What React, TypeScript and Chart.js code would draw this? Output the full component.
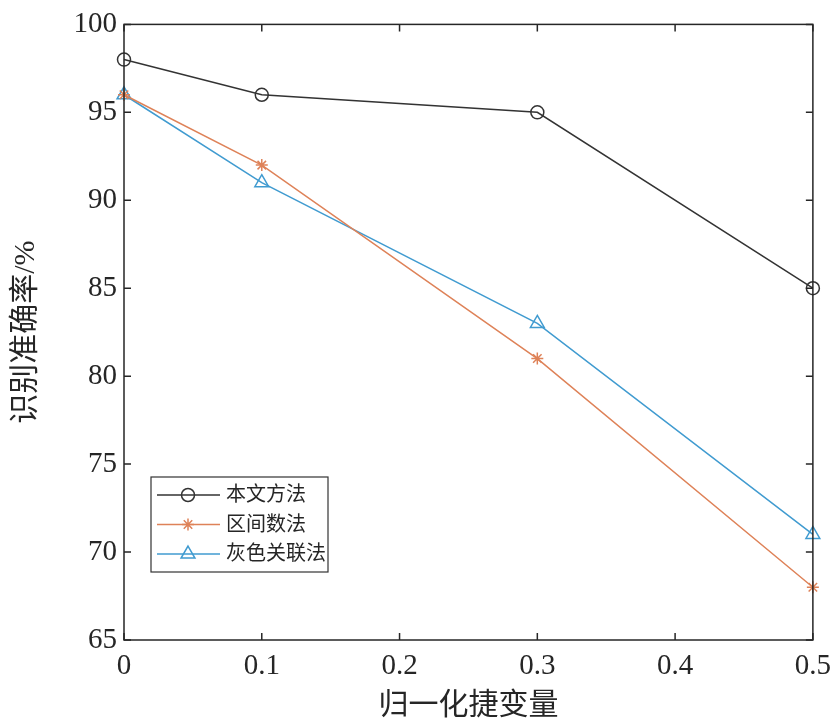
import React, { useEffect, useRef } from 'react';
import { Chart, registerables } from 'chart.js';
import { drawPoint } from 'chart.js/helpers';
Chart.register(...registerables);

// data
const xValues = [0, 0.1, 0.3, 0.5];
const seriesNames = ['本文方法', '区间数法', '灰色关联法'];
const oursAcc = [98, 96, 95, 85];
const intervalAcc = [96, 92, 81, 68];
const greyAcc = [96, 91, 83, 71];
const seriesValues = [oursAcc, intervalAcc, greyAcc];
const seriesColors = ['#333333', '#de8258', '#409bd0'];
const seriesMarkers = ['circle', 'star', 'triangle'];
const markerSizes = [6.5, 6, 8];

const xRange = { min: 0, max: 0.5, step: 0.1 };
const yRange = { min: 65, max: 100, step: 5 };
const xTitle = '归一化捷变量';
const yTitle = '识别准确率/%';

const FONT = "'Liberation Serif', 'Noto Sans CJK SC', serif";
const INK = '#262626';

const framePlugin = {
	id: 'frame',
	afterDatasetsDraw(chart: any) {
		const { ctx, chartArea, scales } = chart;
		const { left, right, top, bottom } = chartArea;
		const tl = 7;
		ctx.save();
		ctx.strokeStyle = INK;
		ctx.lineWidth = 1.5;
		ctx.strokeRect(left, top, right - left, bottom - top);
		ctx.beginPath();
		scales.x.ticks.forEach((t: any) => {
			const px = scales.x.getPixelForValue(t.value);
			ctx.moveTo(px, bottom);
			ctx.lineTo(px, bottom - tl);
			ctx.moveTo(px, top);
			ctx.lineTo(px, top + tl);
		});
		scales.y.ticks.forEach((t: any) => {
			const py = scales.y.getPixelForValue(t.value);
			ctx.moveTo(left, py);
			ctx.lineTo(left + tl, py);
			ctx.moveTo(right, py);
			ctx.lineTo(right - tl, py);
		});
		ctx.stroke();
		ctx.restore();
	},
};

const boxLegendPlugin = {
	id: 'boxLegend',
	afterDraw(chart: any) {
		const { ctx, chartArea } = chart;
		const bx = chartArea.left + 27;
		const by = chartArea.bottom - 163;
		const bw = 177;
		const bh = 95;
		const rowH = 29.5;
		ctx.save();
		ctx.fillStyle = '#ffffff';
		ctx.fillRect(bx, by, bw, bh);
		ctx.strokeStyle = '#333333';
		ctx.lineWidth = 1.2;
		ctx.strokeRect(bx, by, bw, bh);
		chart.data.datasets.forEach((ds: any, i: number) => {
			const cy = by + 18 + i * rowH;
			ctx.strokeStyle = ds.borderColor;
			ctx.lineWidth = 1.5;
			ctx.beginPath();
			ctx.moveTo(bx + 6, cy);
			ctx.lineTo(bx + 69, cy);
			ctx.stroke();
			ctx.fillStyle = 'rgba(0,0,0,0)';
			drawPoint(
				ctx,
				{ pointStyle: ds.pointStyle, rotation: 0, radius: ds.pointRadius, borderWidth: 1.5 },
				bx + 37,
				cy
			);
			ctx.fillStyle = INK;
			ctx.font = `20px ${FONT}`;
			ctx.textBaseline = 'middle';
			ctx.textAlign = 'left';
			ctx.fillText(ds.label, bx + 75, cy + 1);
		});
		ctx.restore();
	},
};

const App = () => {
	const canvasRef = useRef<HTMLCanvasElement>(null);

	useEffect(() => {
		if (!canvasRef.current) return;
		const chart = new Chart(canvasRef.current, {
			type: 'line',
			data: {
				datasets: seriesNames.map((name, i) => ({
					label: name,
					data: xValues.map((x, j) => ({ x, y: seriesValues[i][j] })),
					borderColor: seriesColors[i],
					backgroundColor: 'rgba(0,0,0,0)',
					pointBorderColor: seriesColors[i],
					pointBackgroundColor: 'rgba(0,0,0,0)',
					pointStyle: seriesMarkers[i] as any,
					pointRadius: markerSizes[i],
					pointBorderWidth: 1.5,
					borderWidth: 1.5,
					tension: 0,
					clip: false as any,
				})),
			},
			options: {
				responsive: false,
				animation: false,
				devicePixelRatio: 1,
				layout: { padding: { left: 4, right: 27, top: 22, bottom: 2 } },
				plugins: {
					legend: { display: false },
					tooltip: { enabled: false },
				},
				scales: {
					x: {
						type: 'linear',
						min: xRange.min,
						max: xRange.max,
						grid: { display: false, drawTicks: false },
						border: { display: false },
						ticks: {
							stepSize: xRange.step,
							padding: 9,
							color: INK,
							font: { family: FONT, size: 29 },
							maxRotation: 0,
							callback: (v: any) => String(Number(Number(v).toFixed(1))),
						},
						title: {
							display: true,
							text: xTitle,
							color: INK,
							font: { family: FONT, size: 30 },
							padding: { top: 0, bottom: 0 },
						},
						afterFit: (s: any) => {
							s.height = 84;
						},
					},
					y: {
						type: 'linear',
						min: yRange.min,
						max: yRange.max,
						grid: { display: false, drawTicks: false },
						border: { display: false },
						ticks: {
							stepSize: yRange.step,
							padding: 7,
							color: INK,
							font: { family: FONT, size: 29 },
						},
						title: {
							display: true,
							text: yTitle,
							color: INK,
							font: { family: FONT, size: 30 },
							padding: { top: 4, bottom: 0 },
						},
						afterFit: (s: any) => {
							s.width = 120;
						},
					},
				},
			},
			plugins: [framePlugin, boxLegendPlugin],
		});
		return () => chart.destroy();
	}, []);

	return (
		<div style={{ position: 'absolute', left: 0, top: 0, width: 840, height: 726, background: '#fff' }}>
			<canvas ref={canvasRef} width={840} height={726} />
		</div>
	);
};

export default App;
